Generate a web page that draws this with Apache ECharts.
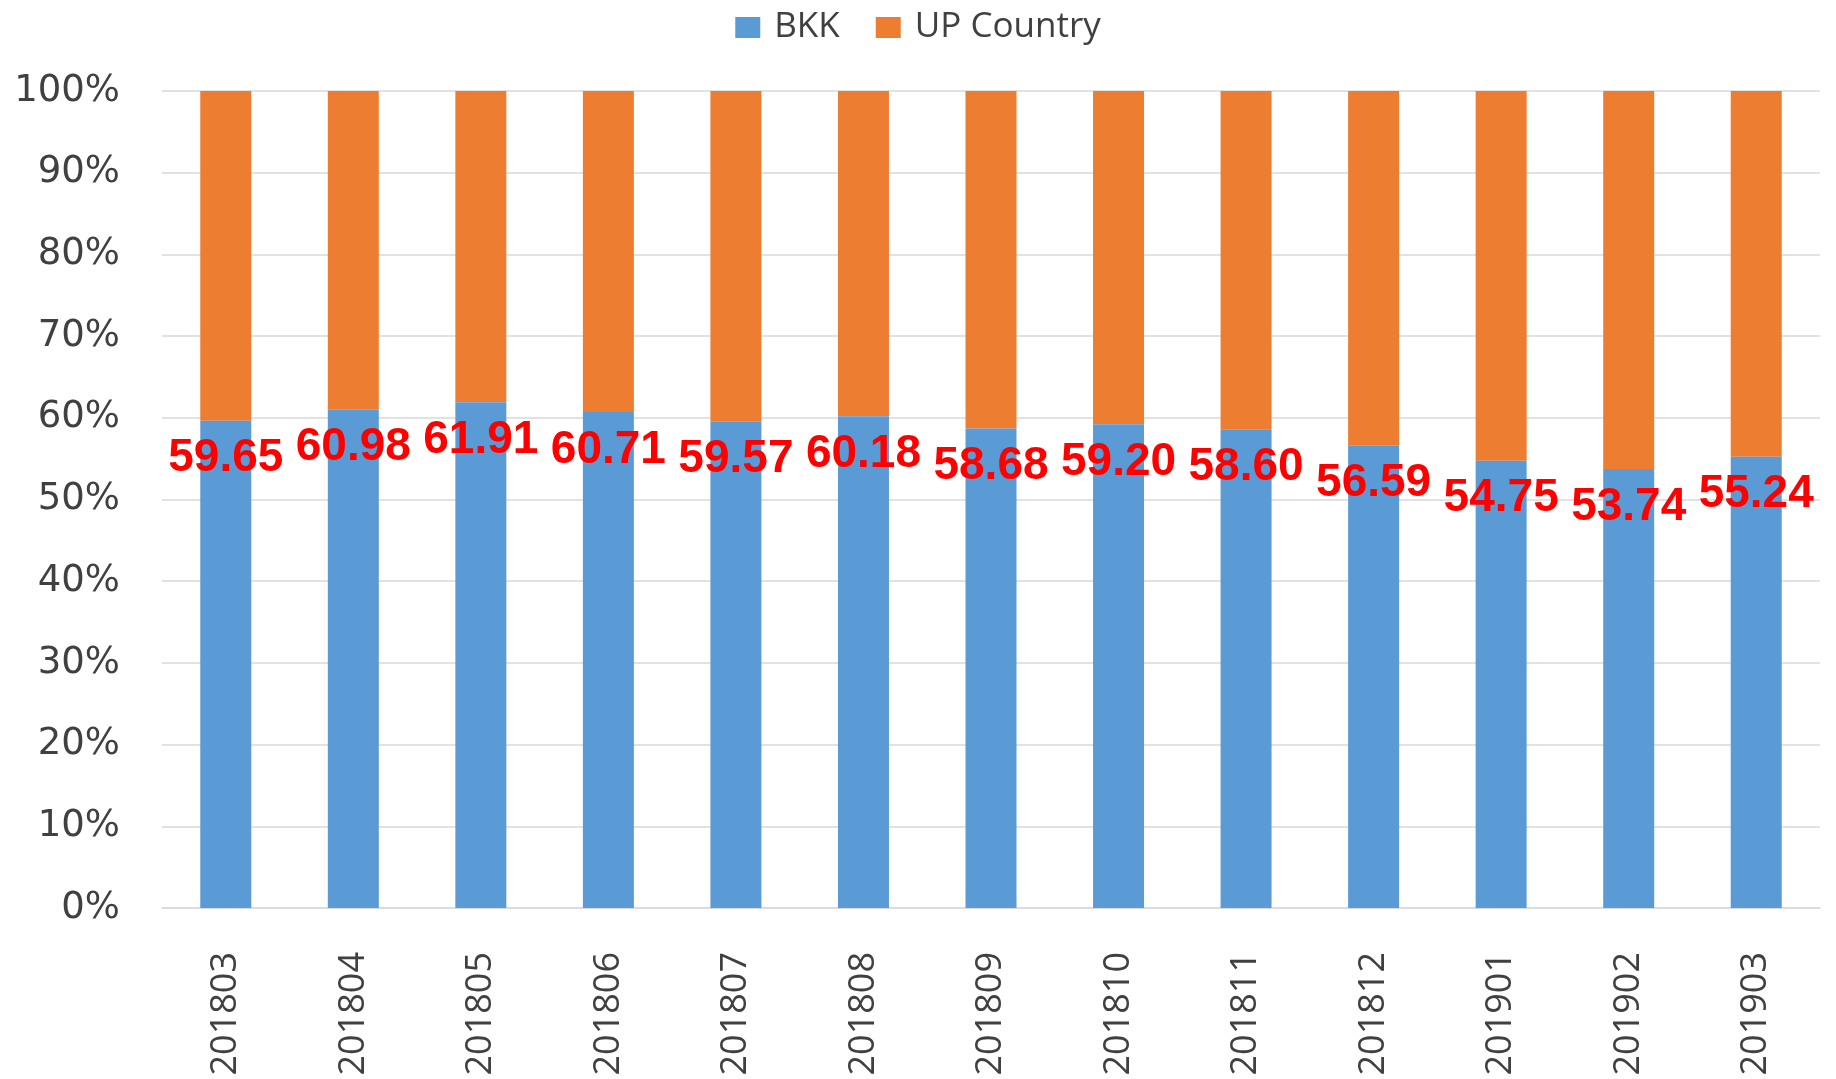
<!DOCTYPE html>
<html>
<head>
<meta charset="utf-8">
<script src="https://cdn.jsdelivr.net/npm/echarts@6/dist/echarts.min.js"></script>
<style>html,body{margin:0;padding:0;background:#fff;}#c{width:1836px;height:1079px;}</style>
</head>
<body>
<div id="c"></div>
<script>
const categories = ['201803','201804','201805','201806','201807','201808','201809','201810','201811','201812','201901','201902','201903'];
const bkk = [59.65, 60.98, 61.91, 60.71, 59.57, 60.18, 58.68, 59.20, 58.60, 56.59, 54.75, 53.74, 55.24];
const upCountry = [40.35, 39.02, 38.09, 39.29, 40.43, 39.82, 41.32, 40.80, 41.40, 43.41, 45.25, 46.26, 44.76];
const yTicks = [0, 10, 20, 30, 40, 50, 60, 70, 80, 90, 100];

const chart = echarts.init(document.getElementById('c'));
chart.setOption({
  animation: false,
  backgroundColor: '#ffffff',
  legend: {
    top: 5,
    left: 'center',
    icon: 'rect',
    itemWidth: 25,
    itemHeight: 21,
    itemGap: 36,
    textStyle: { fontFamily: 'Open Sans', fontSize: 35, color: '#404040', padding: [0, 0, 0, 9] },
    data: ['BKK', 'UP Country']
  },
  grid: { left: 162, right: 16, top: 91, bottom: 171, containLabel: false },
  xAxis: {
    type: 'category',
    data: categories,
    axisTick: { show: false },
    axisLine: { show: true, lineStyle: { color: '#d9d9d9', width: 1.5 } },
    axisLabel: { rotate: 90, margin: 44, fontFamily: 'Open Sans', fontSize: 36, color: '#404040' }
  },
  yAxis: {
    type: 'value',
    min: 0, max: 100, interval: 10,
    axisLine: { show: false },
    axisTick: { show: false },
    splitLine: { lineStyle: { color: '#d9d9d9', width: 1.5 } },
    axisLabel: {
      margin: 42, fontFamily: 'DejaVu Sans', fontSize: 37, color: '#404040',
      formatter: v => yTicks.includes(v) ? v + '%' : ''
    }
  },
  series: [
    {
      name: 'BKK', type: 'bar', stack: 'total', data: bkk, barWidth: 51,
      itemStyle: { color: '#5B9BD5' },
      label: {
        show: true, position: ['50%', 38], align: 'center', verticalAlign: 'middle',
        fontFamily: 'Liberation Sans', fontWeight: 'bold', fontSize: 46, color: '#FF0000',
        formatter: p => p.value.toFixed(2)
      },
      z: 3
    },
    {
      name: 'UP Country', type: 'bar', stack: 'total', data: upCountry, barWidth: 51,
      itemStyle: { color: '#ED7D31' }
    }
  ]
});
</script>
</body>
</html>
